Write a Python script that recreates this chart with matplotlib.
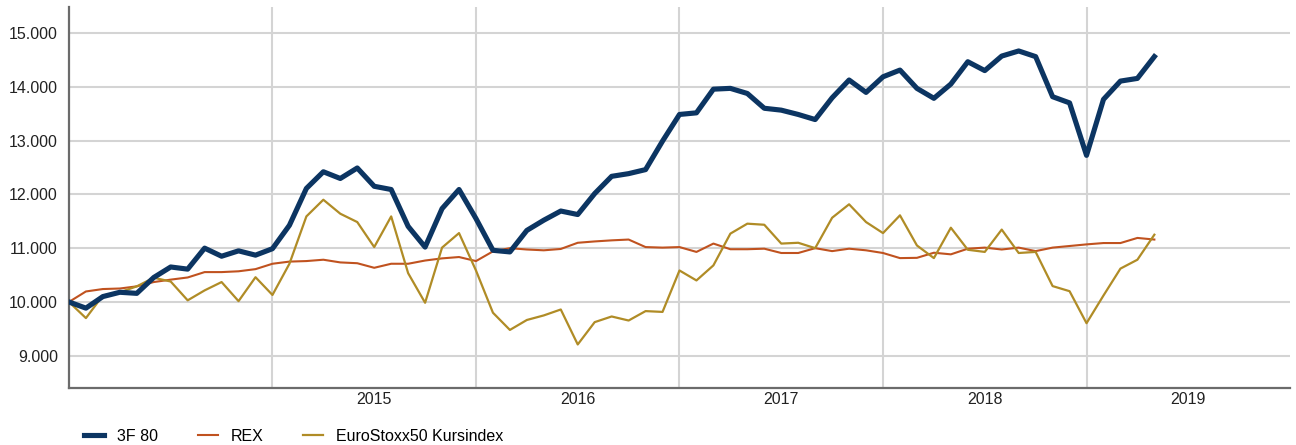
import numpy as np
import matplotlib.pyplot as plt
from matplotlib.ticker import FuncFormatter

# Monatswerte ab Jan 2014 (Startwert 10.000)
fonds_3f80 = [10000, 9885, 10100, 10180, 10160, 10455, 10650, 10610, 11000, 10850,
              10950, 10870, 10990, 11425, 12110, 12420, 12295, 12490, 12150, 12090,
              11405, 11020, 11735, 12090, 11550, 10960, 10930, 11330, 11520, 11690,
              11625, 12015, 12335, 12385, 12460, 12990, 13485, 13515, 13955, 13970,
              13875, 13600, 13565, 13485, 13390, 13795, 14125, 13895, 14185, 14310,
              13970, 13785, 14050, 14465, 14300, 14570, 14665, 14560, 13815, 13700,
              12725, 13765, 14105, 14155, 14560]
rex = [10000, 10195, 10240, 10250, 10290, 10370, 10415, 10455, 10555, 10555,
       10570, 10610, 10710, 10750, 10760, 10785, 10735, 10720, 10635, 10710,
       10710, 10770, 10810, 10835, 10760, 10940, 11000, 10975, 10960, 10985,
       11100, 11125, 11145, 11160, 11020, 11010, 11020, 10930, 11085, 10980,
       10980, 10990, 10910, 10910, 11000, 10945, 10990, 10960, 10910, 10815,
       10820, 10915, 10885, 10990, 11010, 10975, 11010, 10945, 11010, 11040,
       11070, 11095, 11095, 11190, 11160]
eurostoxx = [10000, 9700, 10120, 10180, 10290, 10450, 10380, 10030, 10215, 10370,
             10015, 10460, 10130, 10710, 11590, 11900, 11640, 11485, 11020, 11590,
             10535, 9985, 11010, 11280, 10585, 9800, 9480, 9665, 9750, 9860,
             9210, 9625, 9730, 9655, 9830, 9815, 10585, 10400, 10680, 11270,
             11455, 11435, 11085, 11100, 11000, 11565, 11815, 11485, 11280, 11610,
             11050, 10815, 11380, 10970, 10930, 11345, 10910, 10930, 10295, 10200,
             9605, 10120, 10620, 10785, 11250]
jahre = ["", "2015", "2016", "2017", "2018", "2019"]

plt.rcParams['font.family'] = ['Liberation Sans', 'DejaVu Sans']

fig = plt.figure(figsize=(12.96, 4.45), dpi=100)
ax = fig.add_axes([0.0532, 0.128, 0.9422, 0.856])

monate = np.arange(len(fonds_3f80))
ax.plot(monate, fonds_3f80, color="#0c3562", lw=3.7, label="3F 80", zorder=4)
ax.plot(monate, rex, color="#c0521f", lw=1.5, label="REX", zorder=3)
ax.plot(monate, eurostoxx, color="#b08c26", lw=1.6, label="EuroStoxx50 Kursindex", zorder=3)

ax.set_xlim(0, 72)
ax.set_ylim(8400, 15480)

# Jahresgrenzen als Gitter, Jahreszahl in der Mitte
ax.set_xticks(np.arange(12, 72, 12))
ax.set_xticklabels([])
ax.set_xticks(np.arange(6, 72, 12), minor=True)
ax.set_xticklabels(jahre, minor=True)
ax.set_yticks(np.arange(9000, 15001, 1000))
ax.yaxis.set_major_formatter(FuncFormatter(lambda v, p: "{:,.0f}".format(v).replace(",", ".")))

ax.tick_params(which="both", length=0, labelsize=11.5, colors="#222222")
ax.tick_params(axis="y", pad=8)
ax.tick_params(axis="x", which="minor", pad=3)
ax.grid(True, which="major", color="#d4d4d4", lw=1.5)
ax.set_axisbelow(True)

for s in ["top", "right"]:
    ax.spines[s].set_visible(False)
for s in ["left", "bottom"]:
    ax.spines[s].set_color("#6b6b6b")
    ax.spines[s].set_linewidth(1.6)

fig.legend(loc="lower left", bbox_to_anchor=(0.054, -0.03), ncol=3, frameon=False,
           fontsize=11.5, handlelength=1.25, columnspacing=2.5, handletextpad=0.8)

fig.savefig("out.png", dpi=100)
